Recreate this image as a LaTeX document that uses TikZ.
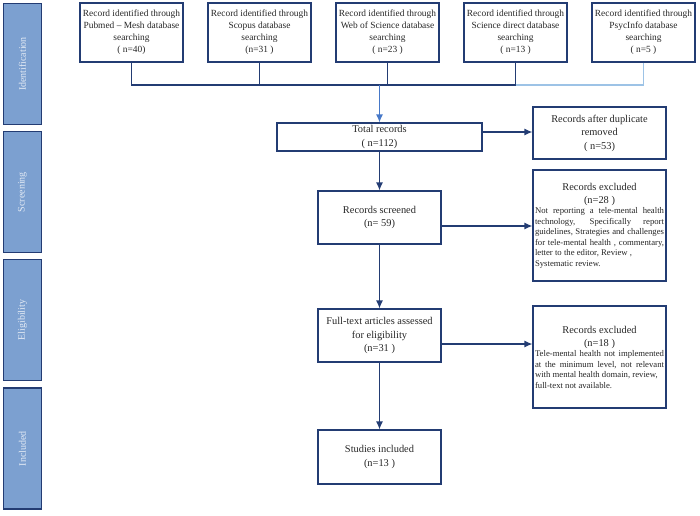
\documentclass[tikz,border=0pt]{standalone}
\usepackage{fontspec}
\setmainfont{Liberation Serif}
\usepackage{xcolor}
\usetikzlibrary{arrows.meta}
\definecolor{boxnavy}{RGB}{35,60,115}
\definecolor{sidefill}{RGB}{124,160,208}
\definecolor{sidetext}{RGB}{228,235,245}
\definecolor{lightline}{RGB}{157,195,230}
\definecolor{midblue}{RGB}{70,120,200}

\begin{document}
\begin{tikzpicture}
[
node distance=128pt,
>={Latex[length=8pt,width=7pt]},
graph sidebox/.style={rectangle,draw=boxnavy,line width=1.5pt,fill=sidefill,rotate=90,minimum width=121pt,minimum height=38pt,text=sidetext,font=\fontsize{10}{12}\selectfont},
graph sourcebox/.style={rectangle,draw=boxnavy,line width=1.2pt,align=center,minimum width=103pt,minimum height=59pt,inner sep=1pt,text=black!85,font=\fontsize{9.4}{12}\selectfont},
graph mainbox/.style={rectangle,draw=boxnavy,line width=1.2pt,align=center,minimum width=123pt,minimum height=53pt,inner sep=2pt,text=black!85,font=\fontsize{10.4}{13.5}\selectfont},
graph excludebox/.style={rectangle,draw=boxnavy,line width=1.2pt,text width=129pt,inner sep=2pt,align=justify,text=black!85,font=\fontsize{8.7}{10.5}\selectfont},
graph line/.style={draw=boxnavy,line width=1.2pt},
graph lightline/.style={draw=lightline,line width=1.2pt},
graph arrow/.style={draw=boxnavy,line width=1.2pt,->},
graph midarrow/.style={draw=midblue,line width=1.2pt,->}
]
\useasboundingbox (0,0) rectangle (700pt,-515pt);

% side bands
\node[graph sidebox] (P1) at (22.5pt,-64pt) {Identification};
\node[graph sidebox] (P2) at (22.5pt,-192pt) {Screening};
\node[graph sidebox] (P3) at (22.5pt,-320pt) {Eligibility};
\node[graph sidebox] (P4) at (22.5pt,-448.5pt) {Included};

% sources
\node[graph sourcebox] (S1) at (131.5pt,-32.5pt) {Record identified through\\Pubmed -- Mesh database\\searching\\( n=40)};
\node[graph sourcebox, right of=S1] (S2) {Record identified through\\Scopus database\\searching\\(n=31 )};
\node[graph sourcebox, right of=S2] (S3) {Record identified through\\Web of Science database\\searching\\( n=23 )};
\node[graph sourcebox, right of=S3] (S4) {Record identified through\\Science direct database\\searching\\( n=13 )};
\node[graph sourcebox, right of=S4] (S5) {Record identified through\\PsycInfo database\\searching\\( n=5 )};

% main column
\node[graph mainbox, below of=S3, xshift=-8pt, yshift=23.5pt, minimum width=205pt, minimum height=28pt] (T) {Total records\\( n=112)};
\node[graph mainbox, below of=T, yshift=47.5pt] (R) {Records screened\\(n= 59)};
\node[graph mainbox, below of=R, yshift=10pt] (F) {Full-text articles assessed\\for eligibility\\(n=31 )};
\node[graph mainbox, below of=F, yshift=6.5pt, minimum height=54pt] (N) {Studies included\\(n=13 )};

% right column
\node[graph mainbox, right of=T, xshift=92pt, yshift=4pt, minimum width=133pt, minimum height=52pt] (D) {Records after duplicate\\removed\\( n=53)};
\node[graph excludebox, right of=R, xshift=92pt, yshift=-8pt, minimum height=111pt] (E1) {{\centering\fontsize{10.4}{13}\selectfont Records excluded\\(n=28 )\par}Not reporting a tele-mental health\linebreak technology, Specifically report\linebreak guidelines, Strategies and challenges\linebreak for tele-mental health , commentary,\linebreak letter to the editor, Review ,\\Systematic review.};
\node[graph excludebox, right of=F, xshift=92pt, yshift=-21.5pt, minimum height=102pt] (E2) {{\centering\fontsize{10.4}{13}\selectfont Records excluded\\(n=18 )\par}Tele-mental health not implemented\linebreak at the minimum level, not relevant\linebreak with mental health domain, review,\\full-text not available.};

% joining line
\coordinate[below of=S3, xshift=-8pt, yshift=75.5pt] (J);
\draw[graph lightline] (S5.south) |- (J);
\draw[graph line] (S1.south) |- (J);
\draw[graph line] (S2.south) -- (S2.south |- J);
\draw[graph line] (S3.south) |- (J);
\draw[graph line] (S4.south) |- (J);
\draw[graph midarrow] (J) -- (T);

% flow arrows
\draw[graph arrow] (T) -- (R);
\draw[graph arrow] (R) -- (F);
\draw[graph arrow] (F) -- (N);
\draw[graph arrow] ([yshift=5pt]T.east) -- ([yshift=5pt]T.east -| D.west);
\draw[graph arrow] ([yshift=-8.5pt]R.east) -- ([yshift=-8.5pt]R.east -| E1.west);
\draw[graph arrow] ([yshift=-8.5pt]F.east) -- ([yshift=-8.5pt]F.east -| E2.west);

\end{tikzpicture}
\end{document}
